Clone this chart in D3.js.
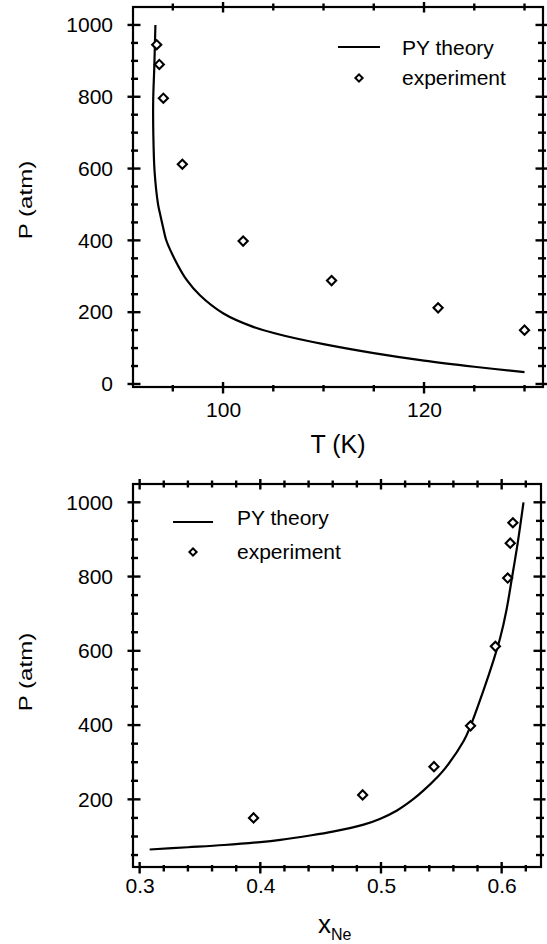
<!DOCTYPE html>
<html>
<head>
<meta charset="utf-8">
<script src="https://cdn.jsdelivr.net/npm/d3@7"></script>
<style>
  html, body { margin: 0; padding: 0; background: #fff; }
  svg { display: block; }
  text { font-family: "Liberation Sans", Arial, Helvetica, sans-serif; fill: #000; }
</style>
</head>
<body>
<svg id="chart" width="547" height="944"></svg>
<script>
// ---------- DATA ----------
// Panel (a): P vs T
const theoryT = [93.27, 93.16, 93.05, 93.06, 93.19, 93.53, 93.78, 94.07, 94.34, 95.2, 96.4, 97.7, 100, 103, 106, 110, 115, 120, 125, 130];
const theoryP_T = [1000, 884, 791, 699, 591, 501, 468, 432, 401, 347, 289, 247, 197, 159, 135, 111, 86, 65, 48, 33];
const expT = [93.4, 93.66, 94.06, 95.95, 102.0, 110.8, 121.4, 130.0];
const expP = [945, 890, 796, 612, 398, 288, 212, 150];

// Panel (b): P vs x_Ne
const theoryX = [0.3083, 0.34, 0.37, 0.40, 0.4166, 0.44, 0.46, 0.4856, 0.4995, 0.5133, 0.5270, 0.5353, 0.5464, 0.5533, 0.5685, 0.5745, 0.5850, 0.5933, 0.5988, 0.6040, 0.6082, 0.6135, 0.6181];
const theoryP_X = [65, 71, 77, 85, 91, 102, 113, 132, 148, 170, 201, 224, 259, 284, 357, 400, 494, 575, 635, 710, 790, 895, 1000];
const expX = [0.6093, 0.6071, 0.6050, 0.5948, 0.5742, 0.5439, 0.4848, 0.3944];

// Ticks
const tMajor = [100, 120];
const tMinor = [95, 105, 110, 115, 125, 130];
const pMajorTop = [0, 200, 400, 600, 800, 1000];
const pMinorTop = [50, 100, 150, 250, 300, 350, 450, 500, 550, 650, 700, 750, 850, 900, 950];
const xMajor = [0.3, 0.4, 0.5, 0.6];
const xMinor = [0.32, 0.34, 0.36, 0.38, 0.42, 0.44, 0.46, 0.48, 0.52, 0.54, 0.56, 0.58, 0.62];
const pMajorBot = [200, 400, 600, 800, 1000];
const pMinorBot = [50, 100, 150, 250, 300, 350, 450, 500, 550, 650, 700, 750, 850, 900, 950];

const legendLabels = ["PY theory", "experiment"];

// Axis domains
const tDomain = [91.04, 131.84];
const pDomainTop = [-8.4, 1050];
const xDomain = [0.2945, 0.6326];
const pDomainBot = [17.8, 1049.3];

// ---------- DRAW ----------
const svg = d3.select("#chart");
svg.append("rect").attr("width", 547).attr("height", 944).attr("fill", "#fff");

function hTicks(g, x, values, edge, dir, outLen, inLen) {
  g.append("g").selectAll("line").data(values).join("line")
    .attr("x1", d => x(d)).attr("x2", d => x(d))
    .attr("y1", edge - dir * inLen).attr("y2", edge + dir * outLen)
    .attr("stroke", "#000").attr("stroke-width", 2.4);
}
function vTicks(g, y, values, edge, dir, outLen, inLen) {
  g.append("g").selectAll("line").data(values).join("line")
    .attr("y1", d => y(d)).attr("y2", d => y(d))
    .attr("x1", edge - dir * inLen).attr("x2", edge + dir * outLen)
    .attr("stroke", "#000").attr("stroke-width", 2.4);
}

function drawPanel(o) {
  const g = svg.append("g");
  const x = d3.scaleLinear().domain(o.xDomain).range([o.x0, o.x1]);
  const y = d3.scaleLinear().domain(o.yDomain).range([o.y1, o.y0]);

  hTicks(g, x, o.xMajor, o.y1, 1, 6.5, 5);
  hTicks(g, x, o.xMinor, o.y1, 1, 4.5, 2);
  hTicks(g, x, o.xMajor, o.y0, -1, 5, 5.5);
  hTicks(g, x, o.xMinor, o.y0, -1, 3.5, 3.5);
  vTicks(g, y, o.yMajor, o.x0, -1, 5.5, 7.5);
  vTicks(g, y, o.yMinor, o.x0, -1, 2, 5);
  vTicks(g, y, o.yMajor, o.x1, 1, 4.5, 7.5);
  vTicks(g, y, o.yMinor, o.x1, 1, 3, 5);

  g.append("rect").attr("x", o.x0).attr("y", o.y0)
    .attr("width", o.x1 - o.x0).attr("height", o.y1 - o.y0)
    .attr("fill", "none").attr("stroke", "#000").attr("stroke-width", 2.2);

  const xl = g.append("g").attr("transform", `translate(0,${o.y1})`)
    .call(d3.axisBottom(x).tickValues(o.xMajor).tickSize(0).tickPadding(o.xPad).tickFormat(o.xFmt));
  xl.select(".domain").remove();
  xl.selectAll("text").attr("font-size", 21).attr("font-family", "Liberation Sans, Arial, sans-serif").attr("fill", "#000");
  const yl = g.append("g").attr("transform", `translate(${o.x0},0)`)
    .call(d3.axisLeft(y).tickValues(o.yMajor).tickSize(0).tickPadding(20).tickFormat(d3.format("d")));
  yl.select(".domain").remove();
  yl.selectAll("text").attr("font-size", 21).attr("font-family", "Liberation Sans, Arial, sans-serif").attr("fill", "#000");

  const line = d3.line().x((d, i) => x(o.thX[i])).y((d, i) => y(o.thY[i])).curve(d3.curveCatmullRom.alpha(0.5));
  g.append("path").datum(o.thX).attr("d", line)
    .attr("fill", "none").attr("stroke", "#000").attr("stroke-width", 2.2);

  const dia = d3.symbol().type(d3.symbolSquare).size(42);
  g.selectAll("path.exp").data(o.exX).join("path").attr("class", "exp")
    .attr("d", dia)
    .attr("transform", (d, i) => `translate(${x(d)},${y(o.exY[i])}) rotate(45)`)
    .attr("fill", "#fff").attr("stroke", "#000").attr("stroke-width", 2.1);

  const L = o.legend;
  g.append("line").attr("x1", L.lx1).attr("x2", L.lx2).attr("y1", L.ly).attr("y2", L.ly)
    .attr("stroke", "#000").attr("stroke-width", 2);
  g.append("path").attr("d", d3.symbol().type(d3.symbolSquare).size(26))
    .attr("transform", `translate(${L.dx},${L.dy}) rotate(45)`)
    .attr("fill", "#fff").attr("stroke", "#000").attr("stroke-width", 2);
  g.append("text").attr("x", L.tx).attr("y", L.t1y).attr("font-size", 21).text(legendLabels[0]);
  g.append("text").attr("x", L.tx).attr("y", L.t2y).attr("font-size", 21).text(legendLabels[1]);

  g.append("text")
    .attr("transform", `translate(${o.ytX},${o.ytY}) rotate(-90) scale(1.3,1)`)
    .attr("text-anchor", "middle").attr("font-size", 18.5).text("P (atm)");
  return {x, y, g};
}

const panelA = drawPanel({
  x0: 133, x1: 543, y0: 7, y1: 387,
  xDomain: tDomain, yDomain: pDomainTop,
  xMajor: tMajor, xMinor: tMinor, yMajor: pMajorTop, yMinor: pMinorTop,
  xPad: 15, xFmt: d3.format("d"),
  thX: theoryT, thY: theoryP_T, exX: expT, exY: expP,
  legend: {lx1: 338, lx2: 380, ly: 47, dx: 359, dy: 78, tx: 402, t1y: 55, t2y: 85},
  ytX: 32, ytY: 200
});
panelA.g.append("text").attr("x", 338).attr("y", 453).attr("text-anchor", "middle")
  .attr("font-size", 25).text("T (K)");

const panelB = drawPanel({
  x0: 133, x1: 541, y0: 484, y1: 867,
  xDomain: xDomain, yDomain: pDomainBot,
  xMajor: xMajor, xMinor: xMinor, yMajor: pMajorBot, yMinor: pMinorBot,
  xPad: 11, xFmt: d3.format(".1f"),
  thX: theoryX, thY: theoryP_X, exX: expX, exY: expP,
  legend: {lx1: 173, lx2: 213, ly: 522, dx: 193, dy: 552, tx: 237, t1y: 525, t2y: 559},
  ytX: 32, ytY: 672
});
const xt = panelB.g.append("text").attr("x", 318).attr("y", 933).attr("font-size", 26);
xt.append("tspan").text("x");
xt.append("tspan").attr("font-size", 16).attr("dy", 7).text("Ne");
</script>
</body>
</html>
